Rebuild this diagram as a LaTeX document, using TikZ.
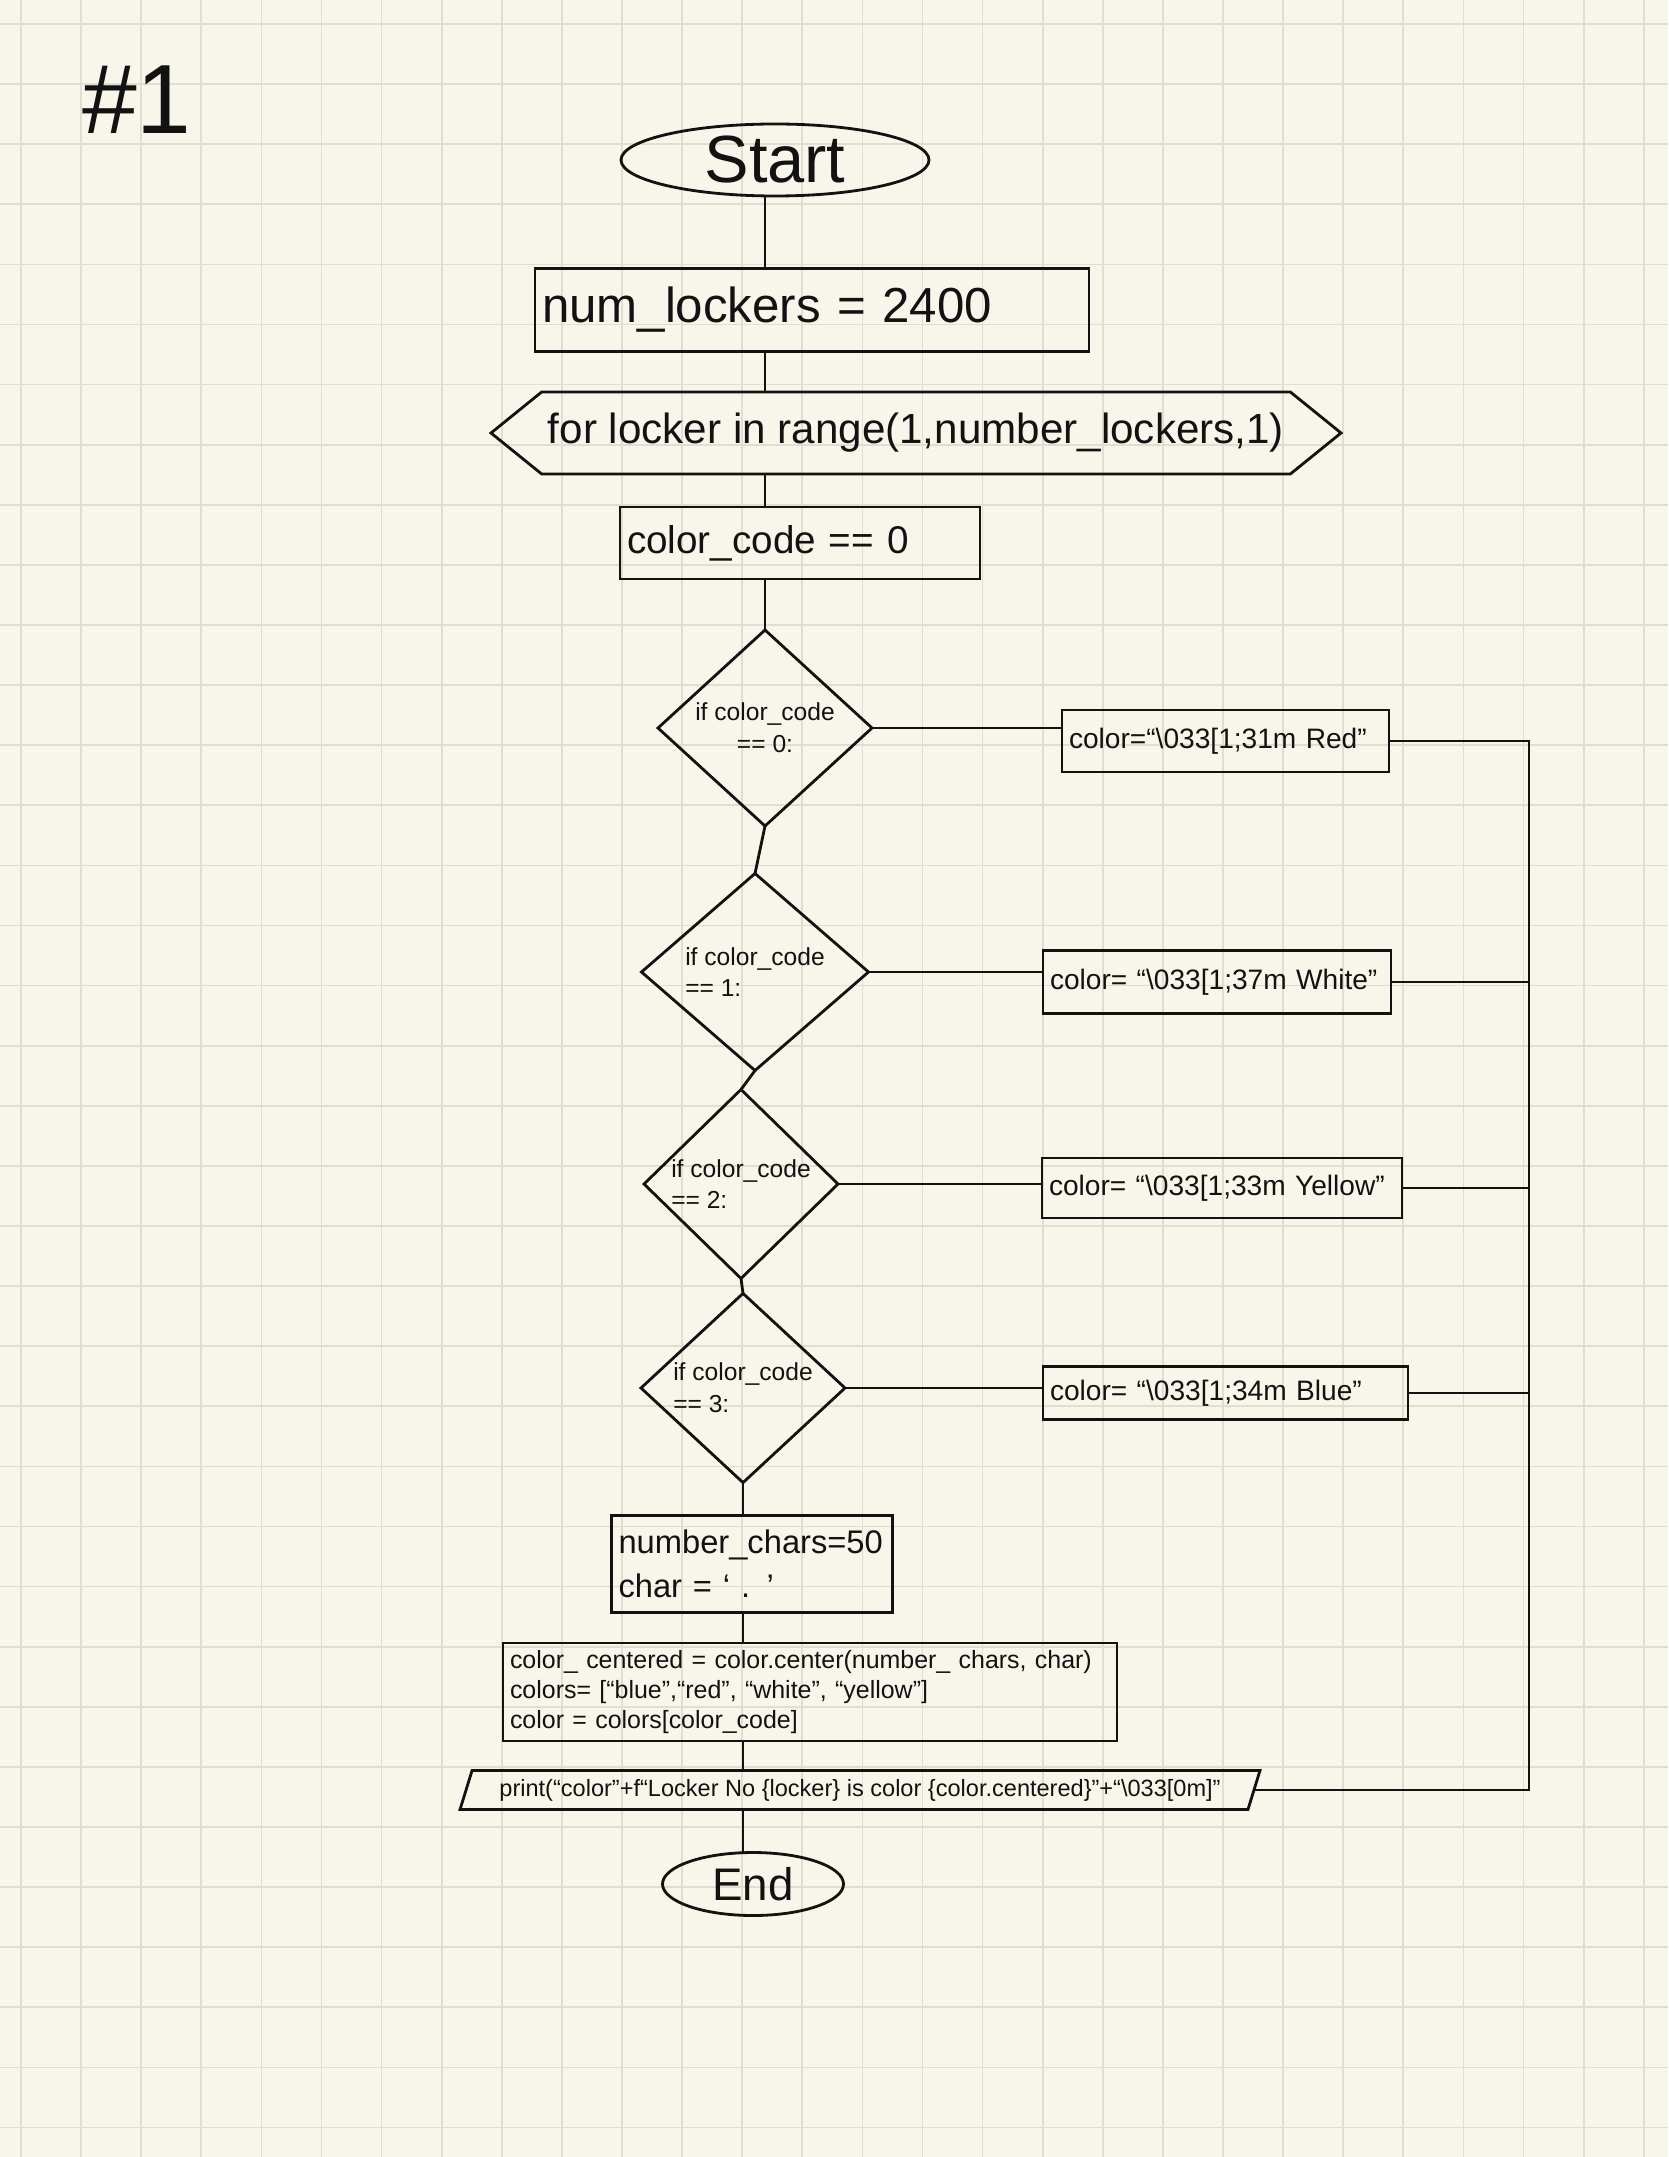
\documentclass[tikz,border=0pt]{standalone}
\usepackage{fontspec}
\setmainfont{Liberation Sans}
\usetikzlibrary{shapes.geometric,shapes.symbols}
\definecolor{paper}{RGB}{248,246,235}
\definecolor{gridline}{RGB}{224,221,209}
\definecolor{ink}{RGB}{18,18,18}
\begin{document}
\begin{tikzpicture}[inner sep=0pt,outer sep=0pt,thick,color=ink,
terminal/.style={draw,ellipse,inner sep=0pt},
procbox/.style={draw,rectangle,inner xsep=0.07cm,inner ysep=0pt,align=left},
decision/.style={draw,diamond,inner sep=0pt,align=left},
loophead/.style={draw,signal,signal to=west and east,signal pointer angle=78,inner sep=0pt},
iobox/.style={draw,trapezium,trapezium left angle=63,trapezium right angle=117,trapezium stretches=true,inner sep=0pt}]
\useasboundingbox (0,0) rectangle (16.68,-21.57);
\fill[paper] (0,0) rectangle (16.68,-21.57);
\foreach \gx in {0,...,27} \draw[gridline,line width=0.5pt] ({0.21+0.601*\gx},0) -- ++(0,-21.57);
\foreach \gy in {0,...,35} \draw[gridline,line width=0.5pt] (0,{-0.24-0.601*\gy}) -- ++(16.68,0);
\draw (1.37,-1.00) node[font=\fontsize{28}{30}\selectfont] (title) {\#1};
\draw (7.75,-1.60) node[terminal,minimum width=3.08cm,minimum height=0.72cm,font=\fontsize{19}{21}\selectfont] (start) {Start};
\draw (8.12,-3.10) node[procbox,text width=5.40cm,minimum height=0.83cm,font=\fontsize{14}{16}\selectfont] (num) {num\_lockers = 2400};
\draw (9.16,-4.33) node[loophead,minimum width=8.50cm,minimum height=0.82cm,font=\fontsize{12}{14}\selectfont] (loop) {for locker in range(1,number\_lockers,1)};
\draw (8.00,-5.43) node[procbox,text width=3.46cm,minimum height=0.72cm,font=\fontsize{11}{13}\selectfont] (init) {color\_code == 0};
\draw (7.65,-7.28) node[decision,align=center,minimum width=2.14cm,minimum height=1.96cm,font=\fontsize{7}{9}\selectfont] (if0) {if color\_code\\== 0:};
\draw (12.255,-7.41) node[procbox,text width=3.13cm,minimum height=0.62cm,font=\fontsize{8}{10}\selectfont] (red) {color=“\textbackslash 033[1;31m Red”};
\draw (7.55,-9.72) node[decision,minimum width=2.27cm,minimum height=1.97cm,font=\fontsize{7}{9}\selectfont] (if1) {if color\_code\\== 1:};
\draw (12.17,-9.82) node[procbox,text width=3.34cm,minimum height=0.63cm,font=\fontsize{8}{10}\selectfont] (white) {color= “\textbackslash 033[1;37m White”};
\draw (7.41,-11.84) node[decision,minimum width=1.94cm,minimum height=1.79cm,font=\fontsize{7}{9}\selectfont] (if2) {if color\_code\\== 2:};
\draw (12.22,-11.88) node[procbox,text width=3.46cm,minimum height=0.60cm,font=\fontsize{8}{10}\selectfont] (yellow) {color= “\textbackslash 033[1;33m Yellow”};
\draw (7.43,-13.88) node[decision,minimum width=2.04cm,minimum height=1.73cm,font=\fontsize{7}{9}\selectfont] (if3) {if color\_code\\== 3:};
\draw (12.255,-13.93) node[procbox,text width=3.51cm,minimum height=0.53cm,font=\fontsize{8}{10}\selectfont] (blue) {color= “\textbackslash 033[1;34m Blue”};
\draw (7.52,-15.64) node[procbox,text width=2.67cm,minimum height=0.97cm,font=\fontsize{9.3}{12.5}\selectfont] (chars) {number\_chars=50\\char = ‘ . ’};
\draw (8.10,-16.92) node[procbox,text width=6.00cm,minimum height=0.98cm,font=\fontsize{7.1}{8.5}\selectfont] (setup) {color\_ centered = color.center(number\_ chars, char)\\colors= [“blue”,“red”, “white”, “yellow”]\\color = colors[color\_code]};
\draw (8.60,-17.90) node[iobox,minimum width=8.02cm,minimum height=0.39cm,font=\fontsize{6.7}{8}\selectfont] (out) {print(“color”+f“Locker No \{locker\} is color \{color.centered\}”+“\textbackslash 033[0m]”};
\draw (7.53,-18.84) node[terminal,minimum width=1.81cm,minimum height=0.63cm,font=\fontsize{13}{15}\selectfont] (stop) {End};
\coordinate (rail) at (15.29,0);
\draw (if0 |- start.south) -- (if0 |- num.north);
\draw (if0 |- num.south) -- (if0 |- loop.north);
\draw (if0 |- loop.south) -- (if0 |- init.north);
\draw (if0 |- init.south) -- (if0.north);
\draw (if0.south) -- (if1.north);
\draw (if1.south) -- (if2.north);
\draw (if2.south) -- (if3.north);
\draw (if3.south) -- (if3.south |- chars.north);
\draw (if3.south |- chars.south) -- (if3.south |- setup.north);
\draw (if3.south |- setup.south) -- (if3.south |- out.north);
\draw (if3.south |- out.south) -- (if3.south |- stop.north);
\draw (if0.east) -- (if0.east -| red.west);
\draw (if1.east) -- (if1.east -| white.west);
\draw (if2.east) -- (if2.east -| yellow.west);
\draw (if3.east) -- (if3.east -| blue.west);
\draw (red.east) -- (red.east -| rail) |- (out.east);
\draw (white.east) -- (white.east -| rail);
\draw (yellow.east) -- (yellow.east -| rail);
\draw (blue.east) -- (blue.east -| rail);
\end{tikzpicture}
\end{document}
